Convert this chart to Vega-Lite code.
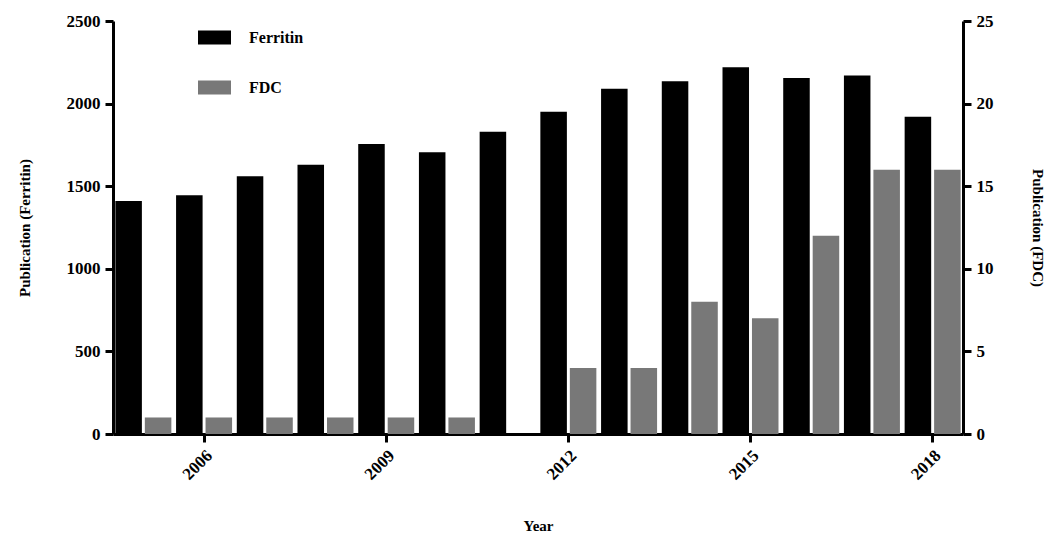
{
  "$schema": "https://vega.github.io/schema/vega-lite/v6.json",
  "width": 850,
  "height": 413,
  "autosize": "none",
  "padding": {"left": 113, "top": 21, "right": 88, "bottom": 104},
  "background": "white",
  "config": {
    "view": {"stroke": null},
    "font": "Liberation Serif",
    "axis": {
      "labelFont": "Liberation Serif",
      "titleFont": "Liberation Serif",
      "labelFontWeight": "bold",
      "titleFontWeight": "bold",
      "labelFontSize": 17,
      "titleFontSize": 15,
      "labelColor": "black",
      "titleColor": "black",
      "domainColor": "black",
      "tickColor": "black",
      "domainWidth": 3,
      "tickWidth": 3,
      "tickSize": 8,
      "labelPadding": 5,
      "grid": false
    }
  },
  "data": {
    "values": [
      {"year": 2005, "series": "Ferritin", "value": 1410},
      {"year": 2006, "series": "Ferritin", "value": 1445},
      {"year": 2007, "series": "Ferritin", "value": 1560},
      {"year": 2008, "series": "Ferritin", "value": 1630},
      {"year": 2009, "series": "Ferritin", "value": 1755},
      {"year": 2010, "series": "Ferritin", "value": 1705},
      {"year": 2011, "series": "Ferritin", "value": 1830},
      {"year": 2012, "series": "Ferritin", "value": 1950},
      {"year": 2013, "series": "Ferritin", "value": 2090},
      {"year": 2014, "series": "Ferritin", "value": 2135},
      {"year": 2015, "series": "Ferritin", "value": 2220},
      {"year": 2016, "series": "Ferritin", "value": 2155},
      {"year": 2017, "series": "Ferritin", "value": 2170},
      {"year": 2018, "series": "Ferritin", "value": 1920},
      {"year": 2005, "series": "FDC", "value": 1},
      {"year": 2006, "series": "FDC", "value": 1},
      {"year": 2007, "series": "FDC", "value": 1},
      {"year": 2008, "series": "FDC", "value": 1},
      {"year": 2009, "series": "FDC", "value": 1},
      {"year": 2010, "series": "FDC", "value": 1},
      {"year": 2011, "series": "FDC", "value": 0},
      {"year": 2012, "series": "FDC", "value": 4},
      {"year": 2013, "series": "FDC", "value": 4},
      {"year": 2014, "series": "FDC", "value": 8},
      {"year": 2015, "series": "FDC", "value": 7},
      {"year": 2016, "series": "FDC", "value": 12},
      {"year": 2017, "series": "FDC", "value": 16},
      {"year": 2018, "series": "FDC", "value": 16}
    ]
  },
  "encoding": {
    "x": {
      "field": "year",
      "type": "ordinal",
      "scale": {"paddingInner": 0, "paddingOuter": 0},
      "axis": {
        "values": [2006, 2009, 2012, 2015, 2018],
        "labelAngle": -45,
        "title": "Year",
        "titlePadding": 36
      }
    },
    "xOffset": {
      "field": "series",
      "type": "nominal",
      "scale": {"domain": ["Ferritin", "FDC"], "paddingInner": 0.1, "paddingOuter": 0.08}
    },
    "fill": {
      "field": "series",
      "type": "nominal",
      "scale": {"domain": ["Ferritin", "FDC"], "range": ["#000000", "#787878"]},
      "legend": {
        "orient": "none",
        "legendX": 85,
        "legendY": 0,
        "title": null,
        "symbolType": "M-1,-0.42H1V0.42H-1Z",
        "symbolSize": 1089,
        "symbolStrokeWidth": 0,
        "labelFont": "Liberation Serif",
        "labelFontWeight": "bold",
        "labelFontSize": 16,
        "labelColor": "black",
        "labelOffset": 18,
        "rowPadding": 25
      }
    }
  },
  "layer": [
    {
      "transform": [{"filter": "datum.series === 'Ferritin'"}],
      "mark": {"type": "bar"},
      "encoding": {
        "y": {
          "field": "value",
          "type": "quantitative",
          "scale": {"domain": [0, 2500], "nice": false},
          "axis": {
            "orient": "left",
            "values": [0, 500, 1000, 1500, 2000, 2500],
            "format": "d",
            "title": "Publication (Ferritin)",
            "titlePadding": 34
          }
        }
      }
    },
    {
      "transform": [{"filter": "datum.series === 'FDC'"}],
      "mark": {"type": "bar"},
      "encoding": {
        "y": {
          "field": "value",
          "type": "quantitative",
          "scale": {"domain": [0, 25], "nice": false},
          "axis": {
            "orient": "right",
            "values": [0, 5, 10, 15, 20, 25],
            "format": "d",
            "title": "Publication (FDC)",
            "titleAngle": 90,
            "titlePadding": 36
          }
        }
      }
    }
  ],
  "resolve": {"scale": {"y": "independent"}}
}
